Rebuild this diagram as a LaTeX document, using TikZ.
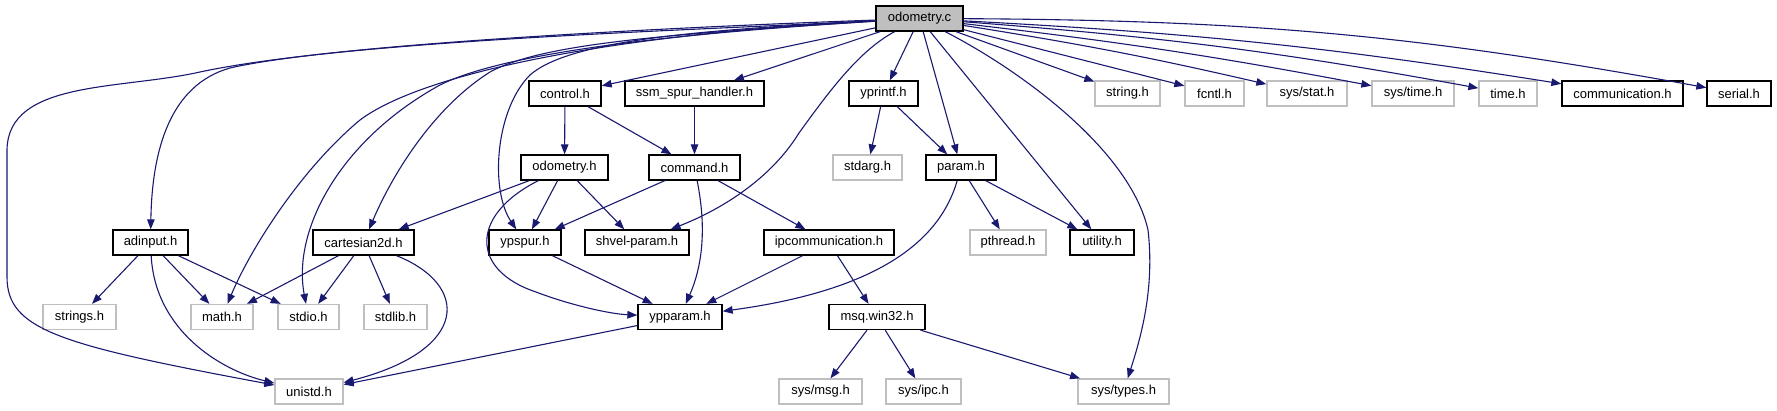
\documentclass[tikz,border=0pt]{standalone}
\usepackage{fontspec}
\setmainfont{Liberation Sans}
\usetikzlibrary{positioning}
\usetikzlibrary{arrows.meta}
\definecolor{edgeblue}{RGB}{25,25,112}
\definecolor{extgrey}{RGB}{191,191,191}

\begin{document}
\begin{tikzpicture}[x=1pt, y=-1pt,
        filebox/.style={draw=black, line width=1.3pt, minimum height=25pt, inner sep=0pt, font=\fontsize{13}{15}\selectfont},
        extbox/.style={filebox, draw=extgrey},
        rootbox/.style={filebox, fill=extgrey},
        dep/.style={edgeblue, line width=1.1pt, -{Triangle[length=10pt, width=7.5pt]}}]
        \useasboundingbox (0,0) rectangle (1777,411);

        % top row
        \node[rootbox, minimum width=87pt] (odc) at (919.5,18.5) {odometry.c};

        \node[filebox, minimum width=72pt] (ctl) at (565,93.5) {control.h};
        \node[filebox, minimum width=139pt] (ssm) at (694.5,93.5) {ssm\_spur\_handler.h};
        \node[filebox, minimum width=69pt] (ypf) at (883.5,93.5) {yprintf.h};
        \node[extbox, minimum width=65pt] (str) at (1127.5,93.5) {string.h};
        \node[extbox, minimum width=59pt] (fcn) at (1214.5,93.5) {fcntl.h};
        \node[extbox, minimum width=80pt] (sst) at (1307,93.5) {sys/stat.h};
        \node[extbox, minimum width=82pt] (stm) at (1413,93.5) {sys/time.h};
        \node[extbox, minimum width=58pt] (tim) at (1508,93.5) {time.h};
        \node[filebox, minimum width=121pt] (com) at (1622.5,93.5) {communication.h};
        \node[filebox, minimum width=64pt] (ser) at (1739,93.5) {serial.h};

        \node[filebox, minimum width=87pt] (odh) at (564.5,167.5) {odometry.h};
        \node[filebox, minimum width=91pt] (cmd) at (694.5,167.5) {command.h};
        \node[extbox, minimum width=69pt] (sta) at (867.5,167.5) {stdarg.h};
        \node[filebox, minimum width=70pt] (par) at (961,167.5) {param.h};

        \node[filebox, minimum width=75pt] (adi) at (150.5,242.5) {adinput.h};
        \node[filebox, minimum width=101pt] (car) at (363.5,242.5) {cartesian2d.h};
        \node[filebox, minimum width=72pt] (ysp) at (525,242.5) {ypspur.h};
        \node[filebox, minimum width=104pt] (shv) at (637,242.5) {shvel-param.h};
        \node[filebox, minimum width=130pt] (ipc) at (829,242.5) {ipcommunication.h};
        \node[extbox, minimum width=76pt] (pth) at (1008,242.5) {pthread.h};
        \node[filebox, minimum width=64pt] (utl) at (1102,242.5) {utility.h};

        \node[extbox, minimum width=73pt] (sts) at (79.5,317) {strings.h};
        \node[extbox, minimum width=62pt] (mth) at (222,317) {math.h};
        \node[extbox, minimum width=61pt] (sio) at (308.5,317) {stdio.h};
        \node[extbox, minimum width=63pt] (slb) at (395.5,317) {stdlib.h};
        \node[filebox, minimum width=84pt] (ypp) at (680,317) {ypparam.h};
        \node[filebox, minimum width=96pt] (msq) at (877,317) {msq.win32.h};

        % bottom row
        \node[extbox, minimum width=68pt] (uni) at (309,391.5) {unistd.h};
        \node[extbox, minimum width=83pt] (smg) at (820.5,391.5) {sys/msg.h};
        \node[extbox, minimum width=75pt] (sip) at (923.5,391.5) {sys/ipc.h};
        \node[extbox, minimum width=91pt] (sty) at (1123.5,391.5) {sys/types.h};

        % includes of odometry.c
        \draw[dep] (odc) .. controls (700,30) and (350,40) .. (200,72) .. controls (120,90) and (8,80) .. (7,150) -- (7,277) .. controls (7,330) and (60,345) .. (uni);
        \draw[dep] (odc) .. controls (650,28) and (330,45) .. (230,68) .. controls (170,85) and (152,150) .. (adi);
        \draw[dep] (odc) .. controls (600,35) and (420,75) .. (360,120) .. controls (300,170) and (250,250) .. (mth);
        \draw[dep] (odc) .. controls (650,35) and (500,55) .. (440,85) .. controls (340,140) and (292,230) .. (sio);
        \draw[dep] (odc) .. controls (650,35) and (540,45) .. (490,72) .. controls (430,110) and (390,180) .. (car);
        \draw[dep] (odc) .. controls (700,30) and (570,40) .. (530,75) .. controls (495,110) and (490,190) .. (ysp);
        \draw[dep] (odc) -- (ctl);
        \draw[dep] (odc) -- (ssm);
        \draw[dep] (odc) .. controls (860,50) and (830,90) .. (799,133) .. controls (770,180) and (720,210) .. (shv);
        \draw[dep] (odc) -- (ypf);
        \draw[dep] (odc) -- (par);
        \draw[dep] (odc) -- (utl);
        \draw[dep] (odc) .. controls (1020,70) and (1130,150) .. (1148,230) .. controls (1155,290) and (1140,340) .. (sty);
        \draw[dep] (odc) -- (str);
        \draw[dep] (odc) -- (fcn);
        \draw[dep] (odc) to[bend left=2] (sst);
        \draw[dep] (odc) to[bend left=2] (stm);
        \draw[dep] (odc) to[bend left=3] (tim);
        \draw[dep] (odc) to[bend left=3] (com);
        \draw[dep] (odc) to[bend left=5] (ser);

        % second level
        \draw[dep] (ctl) -- (odh);
        \draw[dep] (ctl) -- (cmd);
        \draw[dep] (ssm) -- (cmd);
        \draw[dep] (ypf) -- (sta);
        \draw[dep] (ypf) -- (par);

        \draw[dep] (odh) -- (car);
        \draw[dep] (odh) -- (ysp);
        \draw[dep] (odh) -- (shv);
        \draw[dep] (odh) .. controls (470,215) and (470,270) .. (536,292) .. controls (570,305) and (610,314) .. (ypp);
        \draw[dep] (cmd) -- (ysp);
        \draw[dep] (cmd) .. controls (705,220) and (705,260) .. (ypp);
        \draw[dep] (cmd) -- (ipc);
        \draw[dep] (par) -- (pth);
        \draw[dep] (par) -- (utl);
        \draw[dep] (par) .. controls (940,240) and (880,290) .. (ypp);

        \draw[dep] (adi) -- (sts);
        \draw[dep] (adi) -- (mth);
        \draw[dep] (adi) -- (sio);
        \draw[dep] (adi) .. controls (155,330) and (220,370) .. (uni);
        \draw[dep] (car) -- (mth);
        \draw[dep] (car) -- (sio);
        \draw[dep] (car) -- (slb);
        \draw[dep] (car) .. controls (470,285) and (470,350) .. (uni);
        \draw[dep] (ysp) -- (ypp);
        \draw[dep] (ipc) -- (ypp);
        \draw[dep] (ipc) -- (msq);

        \draw[dep] (ypp) -- (uni);
        \draw[dep] (msq) -- (smg);
        \draw[dep] (msq) -- (sip);
        \draw[dep] (msq) -- (sty);
    \end{tikzpicture}
\end{document}
